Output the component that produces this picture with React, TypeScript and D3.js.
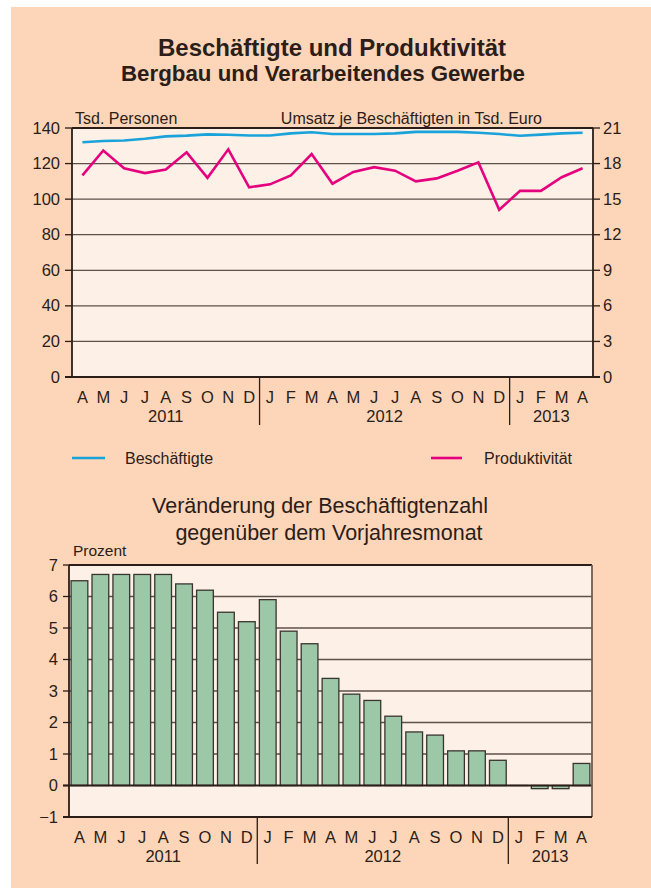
import React from "react";
import * as d3 from "d3";

const months = ["A","M","J","J","A","S","O","N","D","J","F","M","A","M","J","J","A","S","O","N","D","J","F","M","A"];
const years = [
  { label: "2011", start: 0, end: 9 },
  { label: "2012", start: 9, end: 21 },
  { label: "2013", start: 21, end: 25 },
];
const beschaeftigte = [132, 132.7, 133, 134, 135.3, 135.7, 136.4, 136.2, 135.8, 135.8, 137, 137.6, 136.6, 136.6, 136.6, 137, 137.8, 137.8, 137.8, 137.3, 136.6, 135.6, 136.3, 137, 137.3];
const produktivitaet = [17.0, 19.1, 17.6, 17.2, 17.5, 18.95, 16.8, 19.2, 16.0, 16.25, 17.0, 18.8, 16.3, 17.3, 17.7, 17.4, 16.5, 16.75, 17.4, 18.1, 14.1, 15.7, 15.7, 16.85, 17.6];
const veraenderung = [6.5, 6.7, 6.7, 6.7, 6.7, 6.4, 6.2, 5.5, 5.2, 5.9, 4.9, 4.5, 3.4, 2.9, 2.7, 2.2, 1.7, 1.6, 1.1, 1.1, 0.8, 0, -0.1, -0.1, 0.7];
const leftTicks = [0, 20, 40, 60, 80, 100, 120, 140];
const rightTicks = [0, 3, 6, 9, 12, 15, 18, 21];
const barTicks = [-1, 0, 1, 2, 3, 4, 5, 6, 7];

const FONT = "'Liberation Sans', Arial, sans-serif";
const PANEL = "#FDD5B9";
const PLOTBG = "#FDF0E6";
const AXIS = "#2b1d17";
const GRID = "#5e504a";
const TEXT = "#2b1d17";
const BLUE = "#1AA3DA";
const PINK = "#E5007D";
const BAR = "#9CC8A8";
const TICKFS = 16.5;

const idx = months.map((_, i) => i);

function MonthAxis({ x, y0, monthY, yearY, sepEnd }: any) {
  const bw = x.bandwidth();
  return (
    <g>
      {months.map((m, i) => (
        <text key={i} x={(x(i) as number) + bw / 2} y={monthY} textAnchor="middle" fontSize={TICKFS} fill={TEXT} fontFamily={FONT}>{m}</text>
      ))}
      {years.map((yr, i) => {
        const xs = x(yr.start) as number;
        const xe = (x(yr.end - 1) as number) + bw;
        return (
          <g key={i}>
            <text x={(xs + xe) / 2} y={yearY} textAnchor="middle" fontSize={TICKFS} fill={TEXT} fontFamily={FONT}>{yr.label}</text>
            {i > 0 && <line x1={xs} x2={xs} y1={y0} y2={sepEnd} stroke={AXIS} strokeWidth={1.3} />}
          </g>
        );
      })}
    </g>
  );
}

export default function App() {
  // Top chart
  const L = 72, R = 593, T = 128, B = 377;
  const x = d3.scaleBand<number>().domain(idx).range([L, R]).paddingInner(0).paddingOuter(0);
  const yL = d3.scaleLinear().domain([0, 140]).range([B, T]);
  const yR = d3.scaleLinear().domain([0, 21]).range([B, T]);
  const cx = (i: number) => (x(i) as number) + x.bandwidth() / 2;
  const lineB = d3.line<number>().x((_, i) => cx(i)).y((d) => yL(d));
  const lineP = d3.line<number>().x((_, i) => cx(i)).y((d) => yR(d));

  // Bottom chart
  const L2 = 69, R2 = 592, T2 = 565, B2 = 817;
  const x2 = d3.scaleBand<number>().domain(idx).range([L2, R2]).paddingInner(0.2).paddingOuter(0.1);
  const x2b = d3.scaleBand<number>().domain(idx).range([L2, R2]);
  const y2 = d3.scaleLinear().domain([-1, 7]).range([B2, T2]);

  return (
    <svg width={651} height={890} style={{ position: "absolute", left: 0, top: 0 }}>
      <rect x={0} y={0} width={651} height={890} fill="#ffffff" />
      <rect x={11} y={7} width={640} height={881} fill={PANEL} />

      <text x={332} y={56} textAnchor="middle" fontSize={24} fontWeight="bold" fill={TEXT} fontFamily={FONT}>Beschäftigte und Produktivität</text>
      <text x={323} y={81} textAnchor="middle" fontSize={22.3} fontWeight="bold" fill={TEXT} fontFamily={FONT}>Bergbau und Verarbeitendes Gewerbe</text>

      <text x={75} y={124} fontSize={16} fill={TEXT} fontFamily={FONT}>Tsd. Personen</text>
      <text x={542} y={124} textAnchor="end" fontSize={16} fill={TEXT} fontFamily={FONT}>Umsatz je Beschäftigten in Tsd. Euro</text>

      {/* Top plot */}
      <rect x={L} y={T} width={R - L} height={B - T} fill={PLOTBG} />
      {leftTicks.filter((t) => t > 0 && t < 140).map((t) => (
        <line key={t} x1={L} x2={R} y1={yL(t)} y2={yL(t)} stroke={GRID} strokeWidth={1.3} />
      ))}
      <path d={lineB(beschaeftigte) || ""} fill="none" stroke={BLUE} strokeWidth={2.6} strokeLinejoin="round" />
      <path d={lineP(produktivitaet) || ""} fill="none" stroke={PINK} strokeWidth={2.6} strokeLinejoin="miter" />
      <line x1={L} x2={R} y1={T} y2={T} stroke={AXIS} strokeWidth={1.8} />
      <line x1={L} x2={L} y1={T} y2={B} stroke={AXIS} strokeWidth={1.8} />
      <line x1={R} x2={R} y1={T} y2={B} stroke={AXIS} strokeWidth={1.8} />
      <line x1={L - 7} x2={R + 7} y1={B} y2={B} stroke={AXIS} strokeWidth={1.8} />
      {leftTicks.map((t) => (
        <g key={t}>
          <line x1={L - 7} x2={L} y1={yL(t)} y2={yL(t)} stroke={AXIS} strokeWidth={1.3} />
          <text x={L - 12} y={yL(t) + 5.5} textAnchor="end" fontSize={TICKFS} fill={TEXT} fontFamily={FONT}>{t}</text>
        </g>
      ))}
      {rightTicks.map((t) => (
        <g key={t}>
          <line x1={R} x2={R + 7} y1={yR(t)} y2={yR(t)} stroke={AXIS} strokeWidth={1.3} />
          <text x={R + 10} y={yR(t) + 5.5} textAnchor="start" fontSize={TICKFS} fill={TEXT} fontFamily={FONT}>{t}</text>
        </g>
      ))}
      <MonthAxis x={x} y0={B} monthY={403} yearY={422} sepEnd={425} />

      {/* Legend */}
      <line x1={72} x2={105} y1={458} y2={458} stroke={BLUE} strokeWidth={2.6} />
      <text x={125} y={464} fontSize={16} fill={TEXT} fontFamily={FONT}>Beschäftigte</text>
      <line x1={431} x2={462} y1={458} y2={458} stroke={PINK} strokeWidth={2.6} />
      <text x={484} y={464} fontSize={16} fill={TEXT} fontFamily={FONT}>Produktivität</text>

      {/* Second title */}
      <text x={320} y={513} textAnchor="middle" fontSize={21.5} fill={TEXT} fontFamily={FONT}>Veränderung der Beschäftigtenzahl</text>
      <text x={329} y={540} textAnchor="middle" fontSize={21.5} fill={TEXT} fontFamily={FONT}>gegenüber dem Vorjahresmonat</text>
      <text x={73} y={556} fontSize={15.5} fill={TEXT} fontFamily={FONT}>Prozent</text>

      {/* Bottom plot */}
      <rect x={L2} y={T2} width={R2 - L2} height={B2 - T2} fill={PLOTBG} />
      {barTicks.filter((t) => t > 0 && t < 7).map((t) => (
        <line key={t} x1={L2} x2={R2} y1={y2(t)} y2={y2(t)} stroke={GRID} strokeWidth={1.3} />
      ))}
      {veraenderung.map((v, i) => {
        const bx = x2(i) as number;
        const y0 = y2(0);
        const yv = y2(v);
        const top = Math.min(y0, yv);
        const h = Math.abs(yv - y0);
        return (
          <rect key={i} x={bx} y={top} width={x2.bandwidth()} height={Math.max(h, 0.01)} fill={BAR} stroke="#3a3430" strokeWidth={1.3} />
        );
      })}
      <line x1={L2 - 6} x2={R2} y1={y2(0)} y2={y2(0)} stroke={AXIS} strokeWidth={1.8} />
      <line x1={L2} x2={R2} y1={T2} y2={T2} stroke={AXIS} strokeWidth={1.8} />
      <line x1={L2} x2={L2} y1={T2} y2={B2} stroke={AXIS} strokeWidth={1.8} />
      <line x1={R2} x2={R2} y1={T2} y2={B2} stroke="#6e5c54" strokeWidth={1.8} />
      <line x1={L2 - 6} x2={R2} y1={B2} y2={B2} stroke={AXIS} strokeWidth={1.8} />
      {barTicks.map((t) => (
        <g key={t}>
          <line x1={L2 - 6} x2={L2} y1={y2(t)} y2={y2(t)} stroke={AXIS} strokeWidth={1.3} />
          <text x={L2 - 11} y={y2(t) + 5.5} textAnchor="end" fontSize={TICKFS} fill={TEXT} fontFamily={FONT}>{t < 0 ? "\u2212" + Math.abs(t) : t}</text>
        </g>
      ))}
      <MonthAxis x={x2b} y0={B2} monthY={843} yearY={862} sepEnd={864} />
    </svg>
  );
}
